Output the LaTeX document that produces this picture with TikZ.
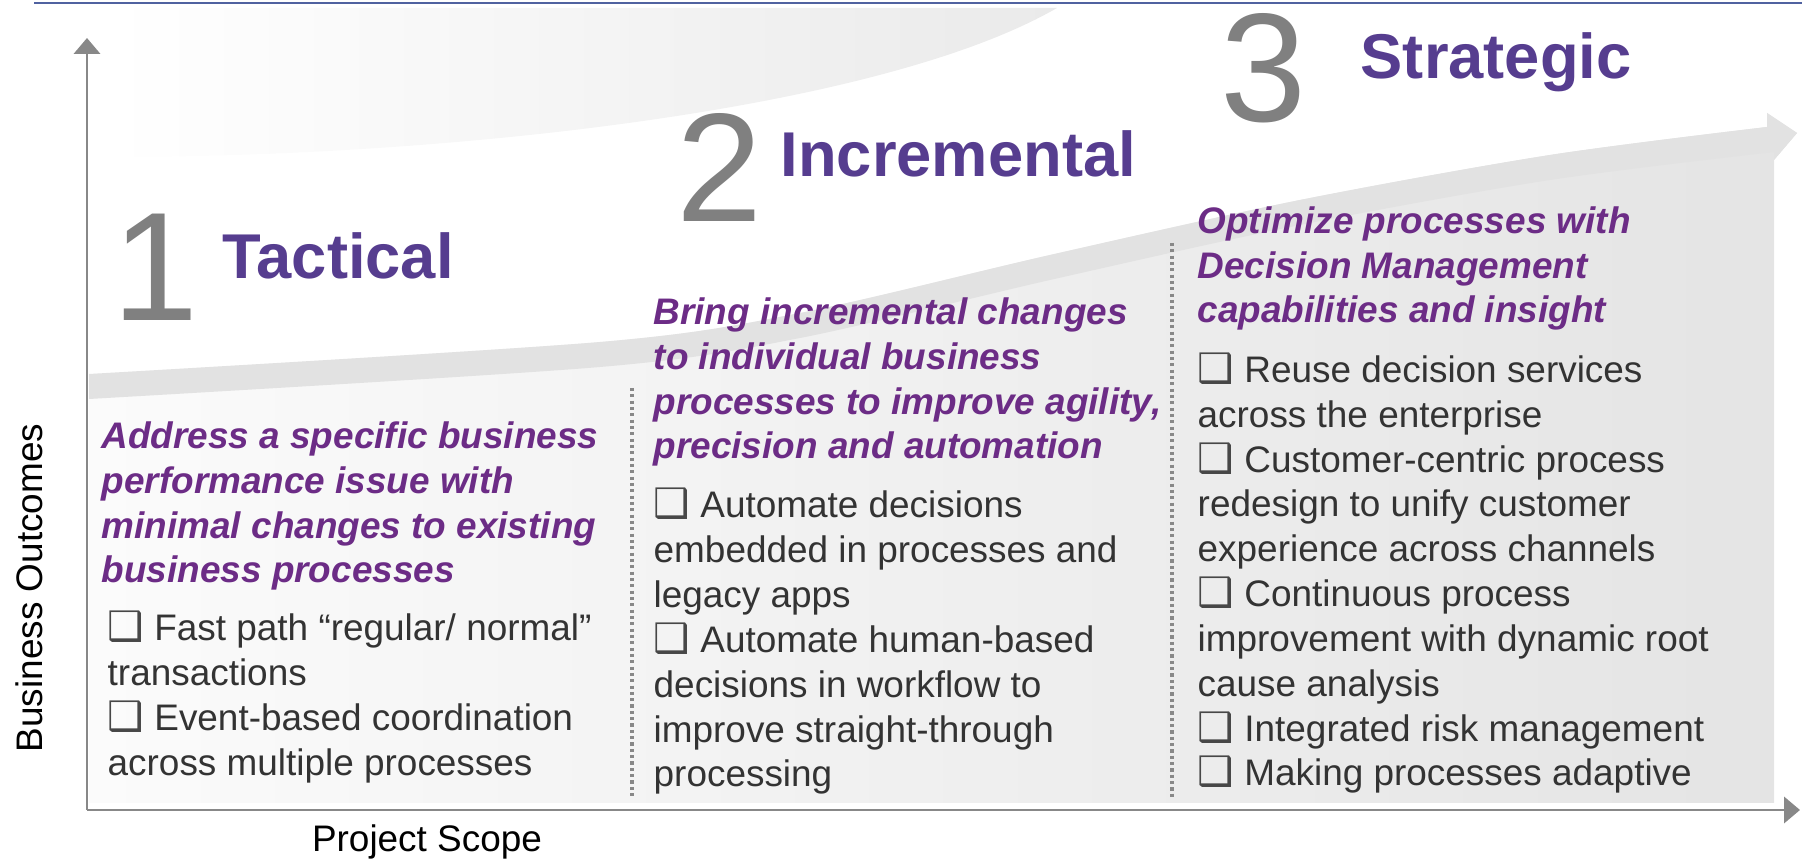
\documentclass[tikz,border=0pt]{standalone}
\usepackage{fontspec}
\setmainfont{Liberation Sans}
\newfontfamily\boxfont[Scale=1.1]{DejaVu Sans}
\usepackage{tikz}
\usetikzlibrary{arrows.meta}
\usepackage{xcolor}

\definecolor{titlepurple}{RGB}{86,61,143}
\definecolor{headpurple}{RGB}{108,44,134}
\definecolor{bodygray}{RGB}{51,51,51}
\definecolor{digitgray}{RGB}{128,128,128}
\definecolor{axisgray}{RGB}{136,136,136}
\definecolor{rulecol}{RGB}{80,98,160}
\definecolor{fillL}{RGB}{251,251,251}
\definecolor{fillR}{RGB}{228,228,228}
\definecolor{bandgray}{RGB}{226,226,226}
\definecolor{swooshR}{RGB}{234,234,234}

\newcommand{\sqbox}{{\boxfont\color{bodygray!90}❑}}

\begin{document}
\begin{tikzpicture}[
  x=0.01cm, y=-0.01cm,
  axis/.style={-{Triangle[length=4.5pt,width=7.4pt]}, line width=0.8pt, draw=axisgray},
  divider/.style={draw=axisgray, line width=0.9pt, dash pattern=on 0.9pt off 0.9pt},
  stagenum/.style={anchor=base west, inner sep=0pt, text=digitgray, font=\fontsize{44}{44}\selectfont},
  stagetitle/.style={anchor=base west, inner sep=0pt, text=titlepurple, font=\fontsize{18}{20}\selectfont\bfseries},
  colhead/.style={anchor=base west, inner sep=0pt, align=left, text=headpurple, font=\fontsize{10.5}{12.75}\selectfont\bfseries\itshape},
  colbody/.style={anchor=base west, inner sep=0pt, align=left, text=bodygray, font=\fontsize{10.5}{12.75}\selectfont},
  axislabel/.style={inner sep=0pt, anchor=base, font=\fontsize{10.5}{12.75}\selectfont}
]
\useasboundingbox (0,0) rectangle (1802,861);

% Background swoosh and rising arrow
\shade[left color=white, right color=swooshR] (111,8) -- (1057,8) .. controls (880,110) and (450,157) .. (111,157) -- cycle;
\shade[left color=fillL, right color=fillR] plot[smooth] coordinates {(89,374) (600,342) (800,313) (1050,255) (1300,200) (1550,155) (1767,127)}
  -- (1767,113) -- (1797,133) -- (1774,160) -- (1774,803) -- (89,803) -- cycle;
\fill[bandgray] plot[smooth] coordinates {(89,374) (600,342) (800,313) (1050,255) (1300,200) (1550,155) (1767,127)}
  -- (1767,113) -- (1797,133) -- (1774,160) -- (1774,152)
  -- plot[smooth] coordinates {(1774,152) (1550,180) (1300,225) (1050,280) (800,338) (600,367) (89,399)} -- cycle;

% Top rule
\draw[rulecol, line width=0.7pt] (34,3) -- (1802,3);

% Axes
\coordinate (origin) at (87,810);
\coordinate (ytip) at (87,38);
\coordinate (xtip) at (1800,810);
\draw[axis] (origin) -- (ytip);
\draw[axis] (origin) -- (xtip);
\node[axislabel, rotate=90] (yl) at (42,588) {Business Outcomes};
\node[axislabel] (xl) at (427,852) {Project Scope};

% Column dividers
\coordinate (d1top) at (632,388);
\coordinate (d1bot) at (632,796);
\coordinate (d2top) at (1172,243);
\coordinate (d2bot) at (1172,798);
\draw[divider] (d1top) -- (d1bot);
\draw[divider] (d2top) -- (d2bot);

% Stage numbers and titles
\node[stagenum] (n1) at (112,321) {1};
\node[stagenum] (n2) at (676,222) {2};
\node[stagenum] (n3) at (1220,122) {3};
\node[stagetitle] (t1) at (222,279) {Tactical};
\node[stagetitle] (t2) at (780,177) {Incremental};
\node[stagetitle] (t3) at (1360,79) {Strategic};

% Stage 1 (anchored on last baseline)
\node[colhead] (h1) at (101,583) {Address a specific business\\performance issue with\\minimal changes to existing\\business processes};
\node[colbody] (b1) at (107,775) {\sqbox\ Fast path “regular/ normal”\\transactions\\\sqbox\ Event-based coordination\\across multiple processes};

% Stage 2
\node[colhead] (h2) at (653,459) {Bring incremental changes\\to individual business\\processes to improve agility,\\precision and automation};
\node[colbody] (b2) at (653,787) {\sqbox\ Automate decisions\\embedded in processes and\\legacy apps\\\sqbox\ Automate human-based\\decisions in workflow to\\improve straight-through\\processing};

% Stage 3
\node[colhead] (h3) at (1197,323) {Optimize processes with\\Decision Management\\capabilities and insight};
\node[colbody] (b3) at (1197,786) {\sqbox\ Reuse decision services\\across the enterprise\\\sqbox\ Customer-centric process\\redesign to unify customer\\experience across channels\\\sqbox\ Continuous process\\improvement with dynamic root\\cause analysis\\\sqbox\ Integrated risk management\\\sqbox\ Making processes adaptive};

\end{tikzpicture}
\end{document}
